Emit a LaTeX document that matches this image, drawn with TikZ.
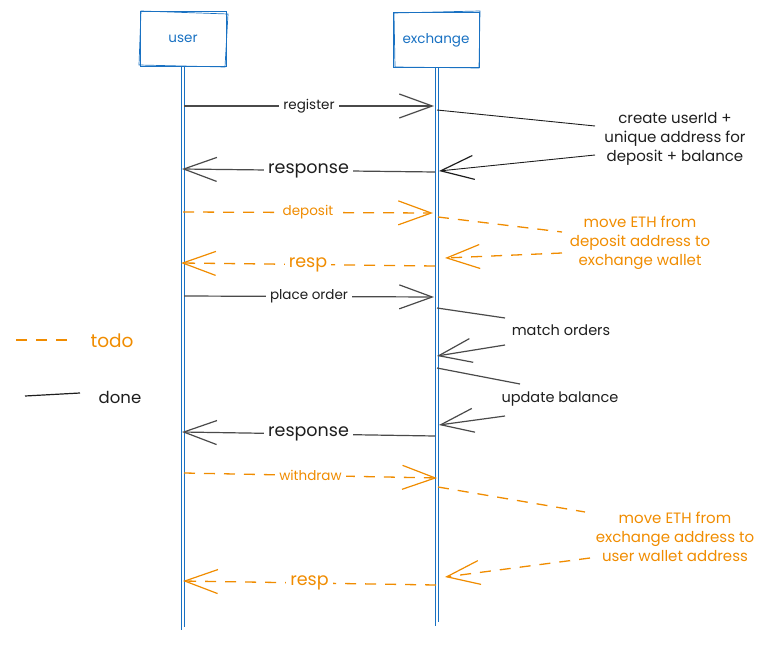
\documentclass[tikz,border=0pt]{standalone}
\usepackage{fontspec}
\setmainfont{Poppins}
\usetikzlibrary{arrows.meta}
\definecolor{exblue}{HTML}{1971C2}
\definecolor{exorange}{HTML}{F08C00}
\definecolor{exink}{HTML}{1E1E1E}
\definecolor{exgray}{HTML}{4A4A4A}
\begin{document}
\begin{tikzpicture}[x=1pt,y=-1pt,
  actor/.style={draw=exblue, line width=1pt, minimum width=86pt, minimum height=55pt, text=exblue, font=\fontsize{13.5}{15}\selectfont},
  life/.style={draw=exblue, line width=0.9pt},
  tip/.style={-{Straight Barb[length=33pt,width=24pt,line width=1.2pt]}},
  msg/.style={draw=exgray, line width=1.2pt, tip},
  todo/.style={draw=exorange, line width=1.3pt, dash pattern=on 11pt off 9pt, tip},
  link/.style={draw=exink, line width=0.9pt},
  todolink/.style={draw=exorange, line width=1.3pt, dash pattern=on 11pt off 9pt},
  lbl/.style={fill=white, inner sep=4pt, font=\fontsize{13.5}{15}\selectfont},
  biglbl/.style={fill=white, inner sep=4pt, font=\fontsize{17.5}{19}\selectfont},
  note/.style={align=center, font=\fontsize{15}{19}\selectfont, inner sep=2pt},
]
\useasboundingbox (0,0) rectangle (781,650);

% actors
\node[actor] (user) at (183,39) {user};
\draw[exblue, line width=0.7pt] (141,11) -- (228,14) -- (225,67) -- (139,65) -- cycle;
\node[actor] (exch) at (436,40) {exchange};
\draw[exblue, line width=0.7pt] (394,13) -- (480,11) -- (479,68) -- (395,67) -- cycle;

% lifelines
\coordinate (ut) at (181,67);
\coordinate (ub) at (181,630);
\coordinate (ut2) at (184,67);
\coordinate (ub2) at (184,627);
\coordinate (et) at (435,68);
\coordinate (eb) at (435,626);
\coordinate (et2) at (438,68);
\coordinate (eb2) at (438,622);
\draw[life] (ut) -- (ub);
\draw[life, line width=0.6pt] (ut2) -- (ub2);
\draw[life] (et) -- (eb);
\draw[life, line width=0.6pt] (et2) -- (eb2);

% notes
\node[note, text=exink] (n1) at (675,139) {create userId +\\unique address for\\deposit + balance};
\node[note, text=exorange] (n2) at (640,243) {move ETH from\\deposit address to\\exchange wallet};
\node[note, text=exink, font=\fontsize{14.5}{19}\selectfont] (n3) at (561,330) {match orders};
\node[note, text=exink, font=\fontsize{14.5}{19}\selectfont] (n4) at (560,399) {update balance};
\node[note, text=exorange] (n5) at (675,537) {move ETH from\\exchange address to\\user wallet address};

% register
\coordinate (u1) at (184,106); \coordinate (e1) at (434,106);
\draw[msg] (u1) -- node[lbl, text=exink, pos=0.5]{register} (e1);
\coordinate (e1b) at (437,110); \coordinate (n1a) at (595,126);
\draw[link] (e1b) -- (n1a);
\coordinate (n1b) at (595,155); \coordinate (e2) at (439,171);
\draw[link, tip] (n1b) -- (e2);
% response
\coordinate (e3) at (435,172); \coordinate (u3) at (182,169);
\draw[msg] (e3) -- node[biglbl, text=exink, pos=0.5]{response} (u3);

% deposit
\coordinate (u4) at (183,212); \coordinate (e4) at (433,213);
\draw[todo] (u4) -- node[lbl, text=exorange, pos=0.5]{deposit} (e4);
\coordinate (e4b) at (438,217); \coordinate (n2a) at (562,232);
\draw[todolink] (e4b) -- (n2a);
\coordinate (n2b) at (562,253); \coordinate (e5) at (445,258);
\draw[todo] (n2b) -- (e5);
% resp
\coordinate (e6) at (435,266); \coordinate (u6) at (181,263);
\draw[todo] (e6) -- node[biglbl, text=exorange, pos=0.5]{resp} (u6);

% place order
\coordinate (u7) at (184,296); \coordinate (e7) at (434,297);
\draw[msg] (u7) -- node[lbl, text=exink, pos=0.5]{place order} (e7);
\coordinate (e7b) at (437,308); \coordinate (n3a) at (505,318);
\draw[link, draw=exgray, line width=1.2pt] (e7b) -- (n3a);
\coordinate (n3b) at (505,345); \coordinate (e8) at (437,356);
\draw[msg] (n3b) -- (e8);
\coordinate (e8b) at (437,368); \coordinate (n4a) at (520,384);
\draw[link, draw=exgray, line width=1.2pt] (e8b) -- (n4a);
\coordinate (n4b) at (505,416); \coordinate (e9) at (439,425);
\draw[msg] (n4b) -- (e9);
% response 2
\coordinate (e10) at (435,436); \coordinate (u10) at (182,432);
\draw[msg] (e10) -- node[biglbl, text=exink, pos=0.5]{response} (u10);

% withdraw
\coordinate (u11) at (184,473); \coordinate (e11) at (437,478);
\draw[todo] (u11) -- node[lbl, text=exorange, pos=0.5]{withdraw} (e11);
\coordinate (e11b) at (438,487); \coordinate (n5a) at (585,512);
\draw[todolink] (e11b) -- (n5a);
\coordinate (n5b) at (590,558); \coordinate (e12) at (445,577);
\draw[todo] (n5b) -- (e12);
% resp 2
\coordinate (e13) at (436,585); \coordinate (u13) at (183,581);
\draw[todo] (e13) -- node[biglbl, text=exorange, pos=0.5]{resp} (u13);

% legend
\coordinate (lg1) at (16,340); \coordinate (lg2) at (68,340);
\draw[todolink] (lg1) -- (lg2);
\node[text=exorange, font=\fontsize{18.5}{20}\selectfont] (todo) at (112,341) {todo};
\coordinate (lg3) at (25,396); \coordinate (lg4) at (80,393);
\draw[link, line width=1.2pt] (lg3) -- (lg4);
\node[text=exink, font=\fontsize{16.5}{19}\selectfont] (done) at (120,397) {done};
\end{tikzpicture}
\end{document}
